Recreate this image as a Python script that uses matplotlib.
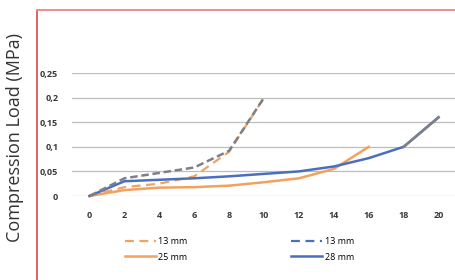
import matplotlib.pyplot as plt
from matplotlib.lines import Line2D

# data
x = [0, 2, 4, 6, 8, 10, 12, 14, 16, 18, 20]
x13 = [0, 2, 4, 6, 8, 10]
orange13 = [0, 0.018, 0.025, 0.04, 0.09, 0.2]
blue13 = [0, 0.036, 0.047, 0.058, 0.092, 0.2]
x25 = [0, 2, 4, 6, 8, 10, 12, 14, 16]
orange25 = [0, 0.012, 0.017, 0.018, 0.021, 0.028, 0.036, 0.055, 0.1]
blue28 = [0, 0.03, 0.033, 0.036, 0.04, 0.045, 0.05, 0.06, 0.077, 0.1, 0.16]

yticks = [0, 0.05, 0.1, 0.15, 0.2, 0.25]
ylabels = ["0", "0,05", "0,1", "0,15", "0,2", "0,25"]
xticks = x

ORANGE = "#f3a25e"
BLUE = "#4a6fbf"
GRAY = "#7d8089"

plt.rcParams['font.family'] = ['Open Sans', 'DejaVu Sans']

fig = plt.figure(figsize=(4.56, 2.80), dpi=100)
ax = fig.add_axes([0.158, 0.3, 0.842, 0.439])

ax.plot(x13, orange13, color=ORANGE, lw=1.6, ls=(0, (4, 2.5)), clip_on=False)
ax.plot(x25, orange25, color=ORANGE, lw=1.8, clip_on=False)
ax.plot(x, blue28, color=BLUE, lw=1.8, clip_on=False)
ax.plot(x[-2:], blue28[-2:], color=GRAY, lw=1.8, clip_on=False)
ax.plot(x13, blue13, color=GRAY, lw=1.8, ls=(0, (3, 1.5)), clip_on=False)

ax.set_xlim(-1, 21)
ax.set_ylim(0, 0.25)
ax.set_yticks(yticks)
ax.set_yticklabels(ylabels)
ax.set_xticks(xticks)
ax.tick_params(length=0, labelsize=6.5, colors="#3a3a3a")
ax.tick_params(axis="y", pad=10)
ax.tick_params(axis="x", pad=11)
for lab in ax.get_xticklabels() + ax.get_yticklabels():
    lab.set_fontweight("bold")
ax.grid(axis="y", color="#bdbdbd", lw=0.9)
ax.set_axisbelow(True)
for s in ax.spines.values():
    s.set_visible(False)

handles = [
    Line2D([], [], color=ORANGE, lw=1.6, ls=(0, (4, 2.5))),
    Line2D([], [], color=ORANGE, lw=1.8),
    Line2D([], [], color=BLUE, lw=1.6, ls=(0, (4, 2.5))),
    Line2D([], [], color=BLUE, lw=1.8),
]
labels = ["13 mm", "25 mm", "13 mm", "28 mm"]
fig.legend(handles, labels, ncol=2, loc="center", bbox_to_anchor=(0.525, 0.11),
           frameon=False, fontsize=6.5, handlelength=3.4, handletextpad=0.3,
           columnspacing=11.5, labelspacing=0.75)

fig.text(0.032, 0.51, "Compression Load (MPa)", rotation=90, ha="center",
         va="center", fontsize=13, color="#333333")

# red frame edges
fig.add_artist(Line2D([37 / 456, 37 / 456], [0, 1 - 10 / 280], color="#e04545", lw=1.2))
fig.add_artist(Line2D([37 / 456, 1], [1 - 10 / 280, 1 - 10 / 280], color="#f08a8a", lw=1.4))

fig.savefig("out.png", dpi=100)
